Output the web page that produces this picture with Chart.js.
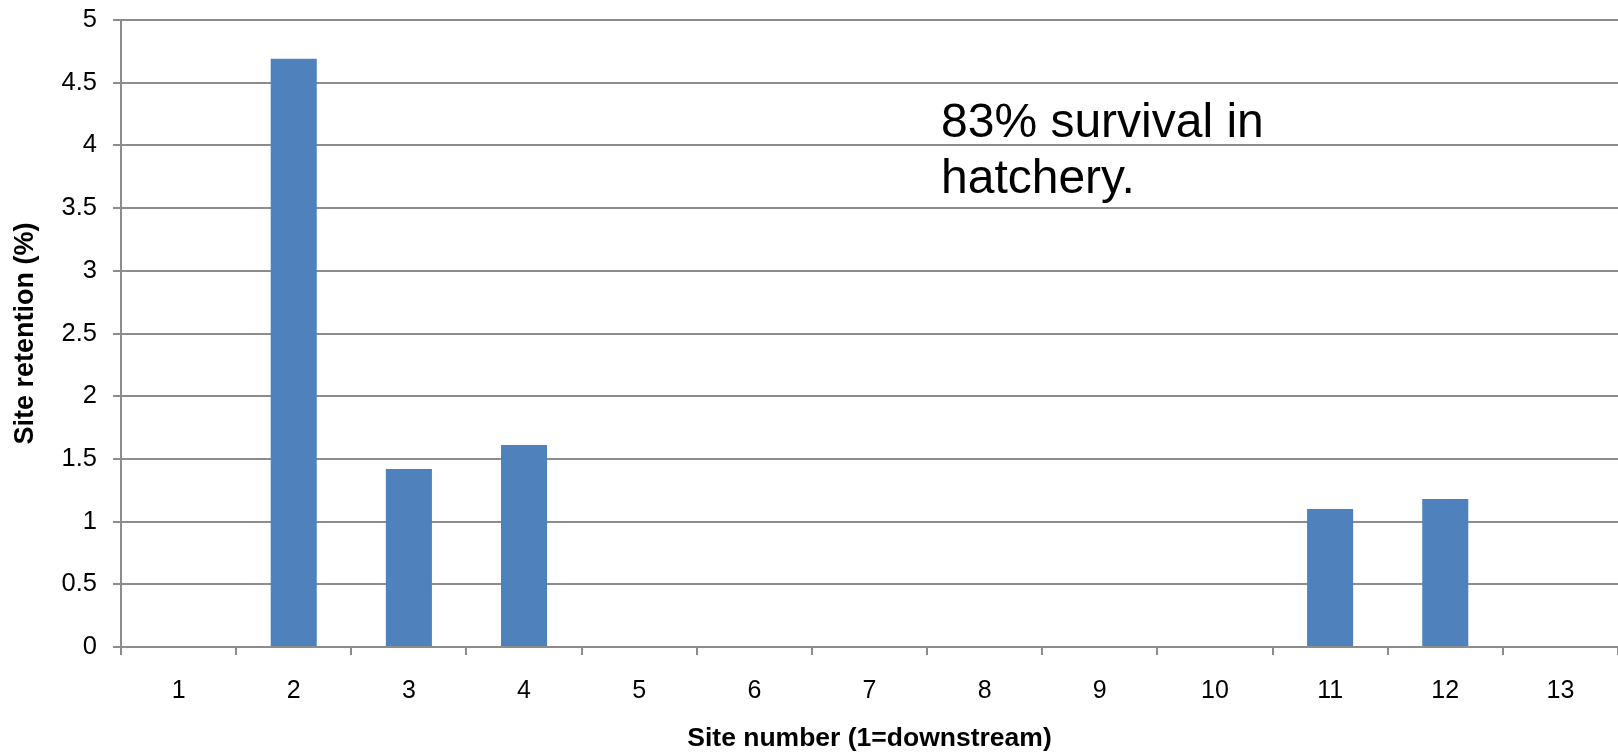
<!DOCTYPE html>
<html>
<head>
<meta charset="utf-8">
<title>Site retention</title>
<script src="https://cdn.jsdelivr.net/npm/chart.js@4/dist/chart.umd.min.js"></script>
<style>
  html, body { margin: 0; padding: 0; background: #ffffff; }
  #wrap { width: 1618px; height: 752px; }
</style>
</head>
<body>
<div id="wrap"><canvas id="c" width="1618" height="752"></canvas></div>
<script>
// Site numbers along the river (1 = most downstream)
const sites = ['1', '2', '3', '4', '5', '6', '7', '8', '9', '10', '11', '12', '13'];
// Percentage of released fish retained at each site
const retention = [0, 4.69, 1.42, 1.61, 0, 0, 0, 0, 0, 0, 1.10, 1.18, 0];
// Value axis ticks
const yTicks = [0, 0.5, 1, 1.5, 2, 2.5, 3, 3.5, 4, 4.5, 5];
const noteLines = ['83% survival in', 'hatchery.'];

const FONT = "'Liberation Sans', Arial, Helvetica, sans-serif";
const GRID = '#8c8c8c';

const notePlugin = {
  id: 'note',
  afterDraw(chart) {
    const ctx = chart.ctx;
    ctx.save();
    ctx.fillStyle = '#000000';
    ctx.font = '48px ' + FONT;
    ctx.textAlign = 'left';
    ctx.textBaseline = 'alphabetic';
    noteLines.forEach((t, i) => ctx.fillText(t, 941, 137 + i * 56));
    ctx.restore();
  }
};

new Chart(document.getElementById('c'), {
  type: 'bar',
  data: {
    labels: sites,
    datasets: [{
      data: retention,
      backgroundColor: '#4f81bd',
      borderWidth: 0,
      categoryPercentage: 1.0,
      barPercentage: 0.4
    }]
  },
  options: {
    responsive: false,
    animation: false,
    layout: { padding: { left: 0, right: 0, top: 20, bottom: 0 } },
    plugins: { legend: { display: false }, tooltip: { enabled: false } },
    scales: {
      x: {
        grid: { display: true, drawOnChartArea: false, drawTicks: true, tickLength: 8, color: GRID, lineWidth: 2, offset: true },
        border: { display: true, color: GRID, width: 2 },
        ticks: { color: '#000000', font: { family: FONT, size: 25 }, padding: 21, maxRotation: 0 },
        title: { display: true, text: 'Site number (1=downstream)', color: '#000000', font: { family: FONT, size: 26.5, weight: 'bold', lineHeight: 1 }, padding: { top: 0, bottom: 0 } },
        afterFit(scale) { scale.height = 105; scale.paddingLeft = 0; scale.paddingRight = 0; }
      },
      y: {
        min: 0,
        max: 5,
        afterBuildTicks(scale) { scale.ticks = yTicks.map(v => ({ value: v })); },
        grid: { display: true, drawTicks: true, tickLength: 8, color: GRID, lineWidth: 2 },
        border: { display: true, color: GRID, width: 2 },
        ticks: { color: '#000000', font: { family: FONT, size: 25.5 }, padding: 16, callback: v => String(v) },
        title: { display: true, text: 'Site retention (%)', color: '#000000', font: { family: FONT, size: 27, weight: 'bold' }, padding: { top: 9, bottom: 0 } },
        afterFit(scale) { scale.width = 121; scale.paddingTop = 0; scale.paddingBottom = 0; }
      }
    }
  },
  plugins: [notePlugin]
});
</script>
</body>
</html>
